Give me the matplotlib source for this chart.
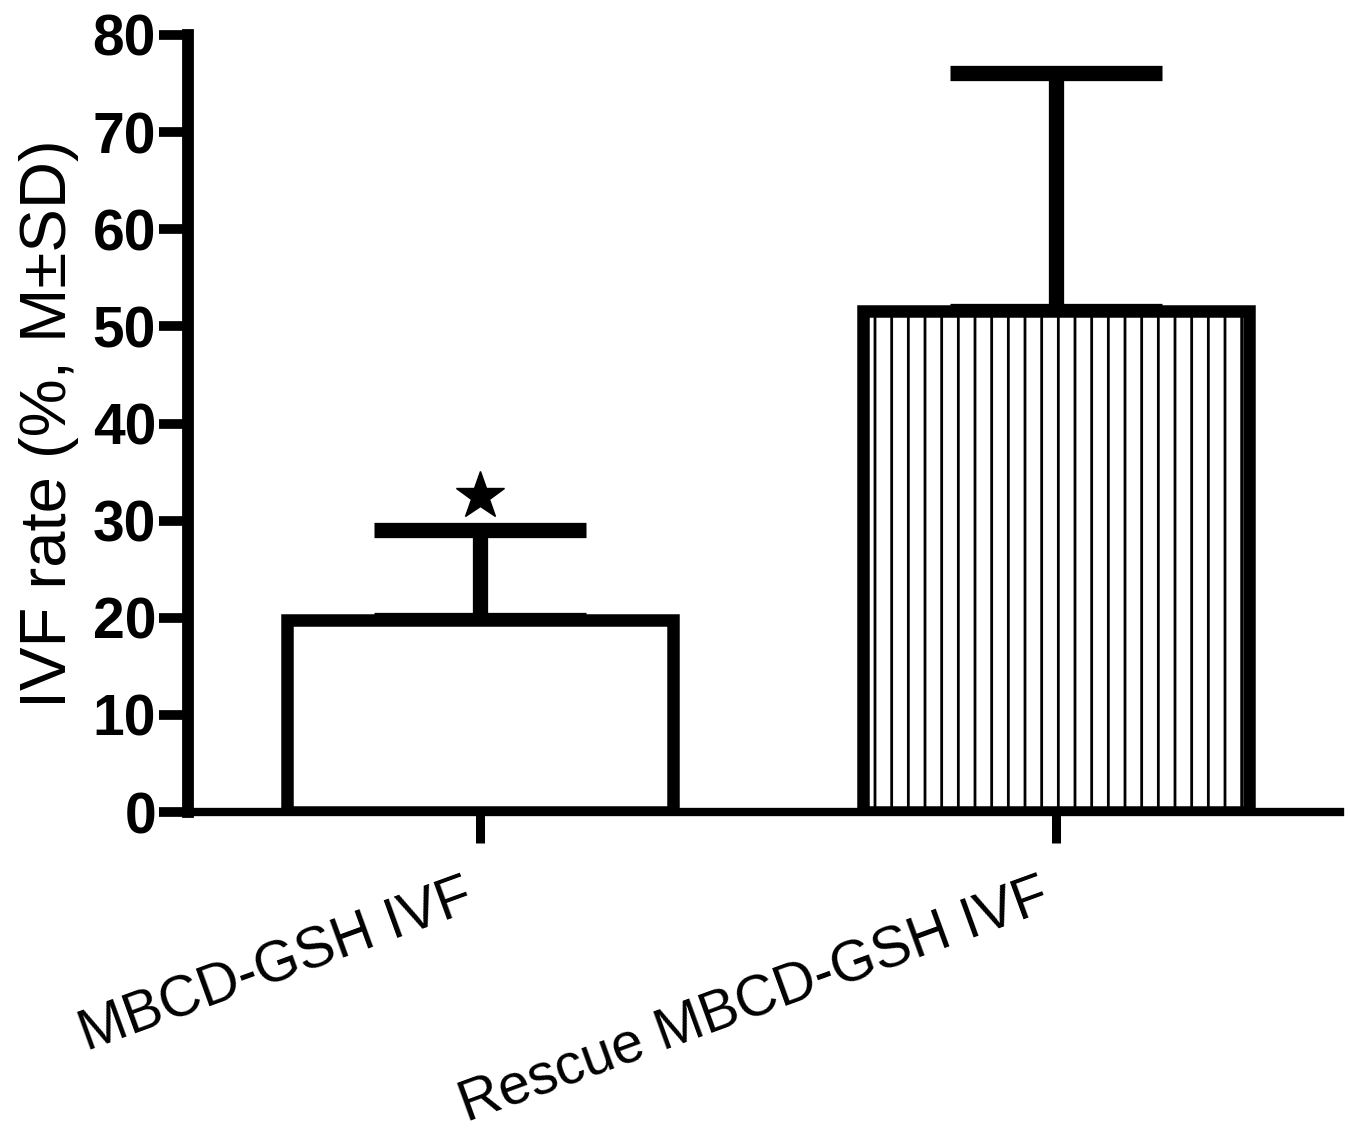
import matplotlib
matplotlib.use("Agg")
import matplotlib.pyplot as plt

groups = ["MBCD-GSH IVF", "Rescue MBCD-GSH IVF"]
means = [19.8, 51.6]
sd_upper = [9.2, 24.5]
hatches = ["", "|"]
star_y = 32.5
yticks = [0, 10, 20, 30, 40, 50, 60, 70, 80]

plt.rcParams.update({
    "font.family": "Liberation Sans",
    "hatch.linewidth": 2.0,
})

fig = plt.figure(figsize=(13.65, 11.36), dpi=100)
ax = fig.add_axes([0.1377, 0.2852, 0.8440, 0.6840])

x = list(range(len(groups)))
for xi, m, h in zip(x, means, hatches):
    ax.bar(xi, m, width=0.67, color="white", edgecolor="black",
           linewidth=9, hatch=h, zorder=3)

# upper SD only, caps drawn as in the original
ax.errorbar(x, means, yerr=[[0] * len(means), sd_upper], fmt="none",
            ecolor="black", elinewidth=11, capsize=76, capthick=11, zorder=2)

ax.plot([x[0]], [star_y], marker="*", markersize=36, color="black",
        linestyle="none", zorder=4)

ax.set_xlim(-0.507, 1.493)
ax.set_ylim(0, 80)
ax.set_yticks(yticks)
ax.set_yticklabels([str(v) for v in yticks], fontsize=41, fontweight="bold")
ax.set_xticks(x)
ax.set_xticklabels(groups, fontsize=41, rotation=20, ha="right", va="top")

for s in ("top", "right"):
    ax.spines[s].set_visible(False)
ax.spines["left"].set_linewidth(8.5)
ax.spines["bottom"].set_linewidth(6.0)

ax.tick_params(axis="y", length=21, width=7, pad=2)
ax.tick_params(axis="x", length=22, width=6.5, pad=20)

ax.set_ylabel("IVF rate (%, M±SD)", fontsize=47, labelpad=10)

fig.savefig("out.png", dpi=100)
